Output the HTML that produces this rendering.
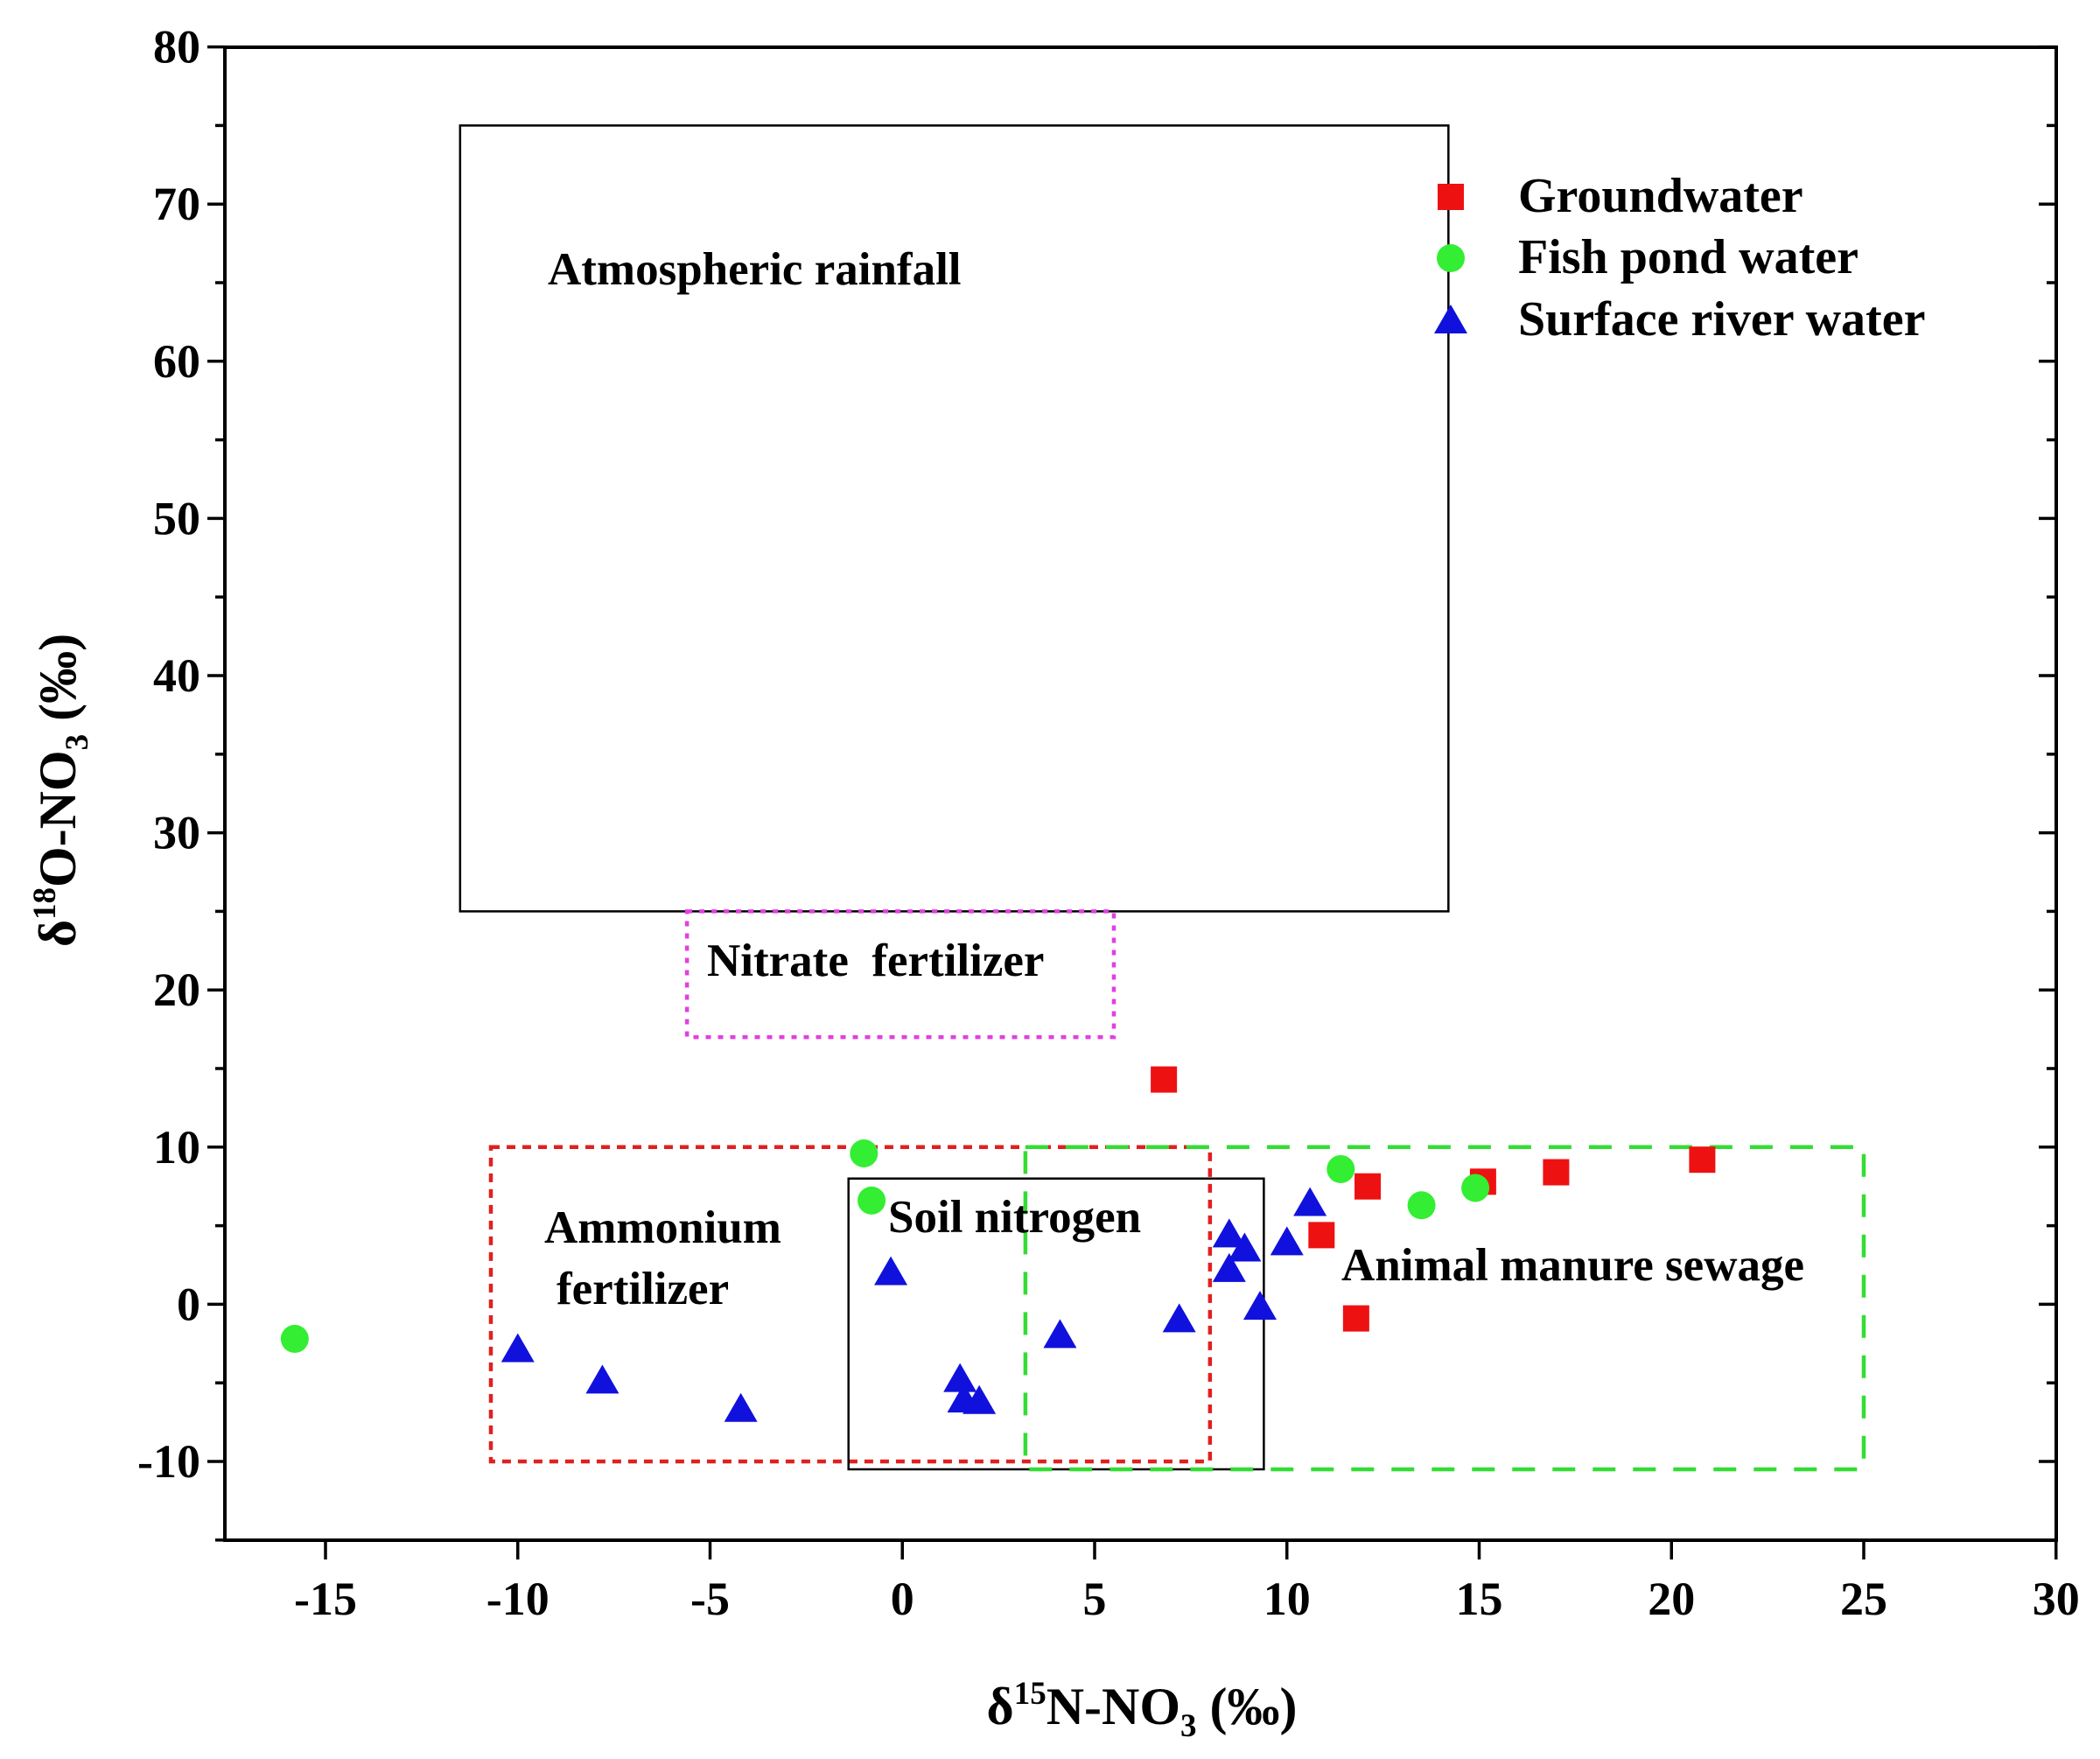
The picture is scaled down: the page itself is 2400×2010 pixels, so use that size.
<!DOCTYPE html>
<html><head><meta charset="utf-8"><style>
html,body{margin:0;padding:0;background:#fff;}
svg{display:block;font-family:"Liberation Serif",serif;font-weight:bold;}
</style></head><body>
<svg id="s" width="2400" height="2010" viewBox="0 0 2400 2010" xmlns="http://www.w3.org/2000/svg"></svg>
<script>
const s=document.getElementById('s');
const X=v=>372+(v+15)*43.95, Y=v=>1670-(v+10)*17.96;
let h='';
const L=257,R=2350,T=54,B=1760;
h+=`<rect x="${L}" y="${T}" width="${R-L}" height="${B-T}" fill="none" stroke="#000" stroke-width="4"/>`;
for(let v=-15;v<=80;v+=5){const y=Y(v);const maj=v%10==0;const len=maj?20:11;
h+=`<line x1="${L-len}" y1="${y}" x2="${L}" y2="${y}" stroke="#000" stroke-width="3.5"/>`;
h+=`<line x1="${R}" y1="${y}" x2="${R-len}" y2="${y}" stroke="#000" stroke-width="3.5"/>`;
if(maj&&v!=-15) h+=`<text x="${L-28}" y="${y+18}" font-size="54" text-anchor="end">${v}</text>`;}
for(let v=-15;v<=30;v+=5){const x=X(v);
h+=`<line x1="${x}" y1="${B}" x2="${x}" y2="${B+22}" stroke="#000" stroke-width="3.5"/>`;
h+=`<text x="${x}" y="${B+85}" font-size="54" text-anchor="middle">${v}</text>`;}
function box(x1,y1,x2,y2,col,dash,w){h+=`<rect x="${X(x1)}" y="${Y(y2)}" width="${X(x2)-X(x1)}" height="${Y(y1)-Y(y2)}" fill="none" stroke="${col}" stroke-width="${w}" ${dash?`stroke-dasharray="${dash}"`:''}/>`;}
box(-11.5,25,14.2,75,'#000',null,2.5);
box(-5.6,17,5.5,25,'#e040e0','6 8',4.5);
box(-10.7,-10,8,10,'#e02020','10 8',4.5);
box(-1.4,-10.5,9.4,8,'#000',null,2.5);
box(3.2,-10.5,25,10,'#33dd33','26 20',4.5);
function t(x,y,str,fs){h+=`<text x="${x}" y="${y}" font-size="${fs}">${str}</text>`;}
t(626,325,'Atmospheric rainfall',53);
t(808,1115,'Nitrate&#160; fertilizer',53);
t(622,1420,'Ammonium',53);
t(636,1490,'fertilizer',53);
t(1015,1408,'Soil nitrogen',53);
t(1533,1463,'Animal manure sewage',53);
const gw=[[6.8,14.3],[12.1,7.5],[15.1,7.8],[17,8.4],[20.8,9.2],[10.9,4.4],[11.8,-0.9]];
const fp=[[-15.8,-2.2],[-1,9.6],[-0.8,6.6],[11.4,8.6],[13.5,6.3],[14.9,7.4]];
const sr=[[-10,-2.9],[-7.8,-4.9],[-4.2,-6.7],[-0.3,2],[1.5,-4.8],[1.6,-6.1],[2,-6.2],[4.1,-2],[7.2,-1],[8.5,4.4],[8.9,3.5],[8.5,2.2],[10,3.9],[10.6,6.4],[9.3,-0.2]];
const sq=(x,y)=>`<rect x="${x-15}" y="${y-15}" width="30" height="30" fill="#ee1111"/>`;
const ci=(x,y)=>`<circle cx="${x}" cy="${y}" r="16" fill="#33ee33"/>`;
const tr=(x,y)=>`<polygon points="${x},${y-19} ${x-19},${y+14} ${x+19},${y+14}" fill="#1111dd"/>`;
gw.forEach(p=>h+=sq(X(p[0]),Y(p[1])));
fp.forEach(p=>h+=ci(X(p[0]),Y(p[1])));
sr.forEach(p=>h+=tr(X(p[0]),Y(p[1])));
h+=sq(1658,225);h+=ci(1658,295);h+=tr(1658,367);
t(1735,242,'Groundwater',56);t(1735,312,'Fish pond water',56);t(1735,383,'Surface river water',56);
h+=`<text x="1305" y="1970" font-size="60" text-anchor="middle">δ<tspan font-size="37" dy="-23">15</tspan><tspan dy="23">N-NO</tspan><tspan font-size="37" dy="14">3</tspan><tspan dy="-14"> (‰)</tspan></text>`;
h+=`<text transform="translate(86,903) rotate(-90)" font-size="60" text-anchor="middle">δ<tspan font-size="37" dy="-23">18</tspan><tspan dy="23">O-NO</tspan><tspan font-size="37" dy="14">3</tspan><tspan dy="-14"> (‰)</tspan></text>`;
s.innerHTML=h;
</script>
</body></html>
